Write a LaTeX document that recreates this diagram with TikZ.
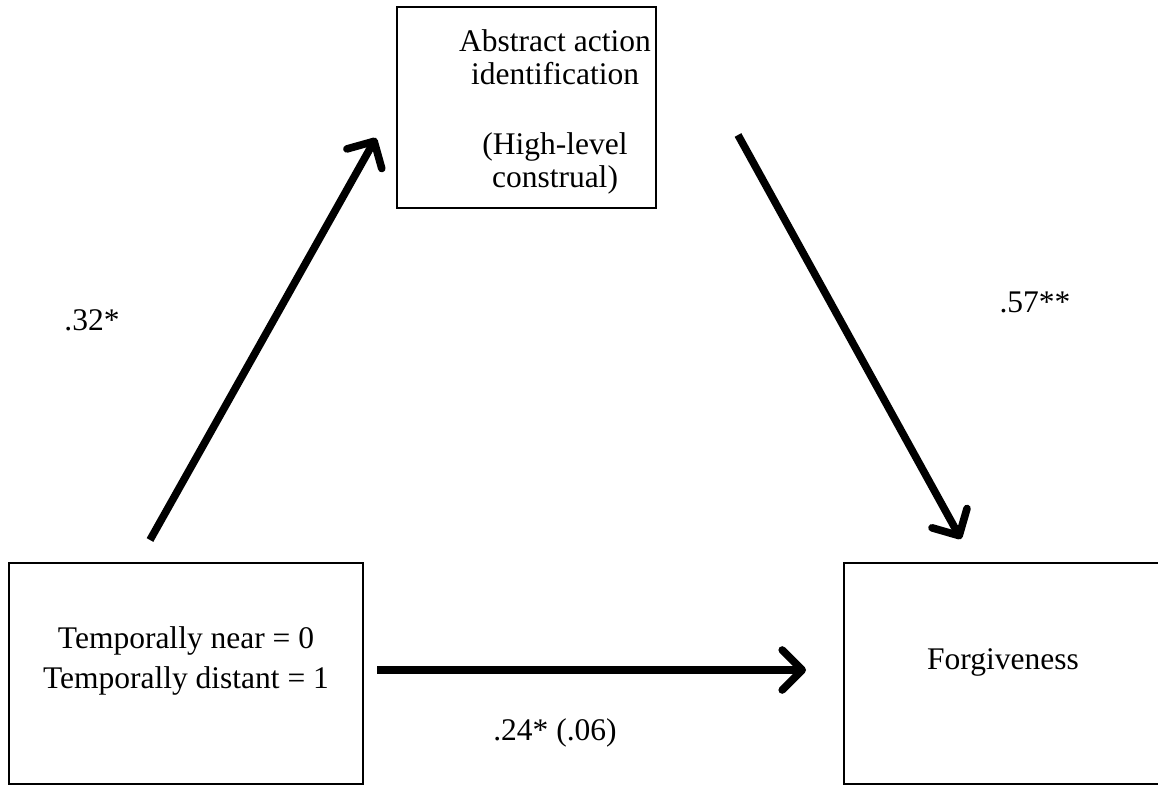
\documentclass[tikz,border=0pt]{standalone}
\usepackage{fontspec}
\setmainfont{Liberation Serif}
\usetikzlibrary{arrows.meta}

\begin{document}
\begin{tikzpicture}[x=0.5pt, y=-0.5pt,
    every node/.style={font=\fontsize{15.75}{16.5}\selectfont},
    box/.style={draw, line width=1pt, inner sep=0pt},
    link/.style={line width=3.8pt, -{Straight Barb[round, length=10pt, width=20pt]}}]
  \useasboundingbox (0,0) rectangle (1158,785);

  % boxes
  \node[box, minimum width=129.5pt, minimum height=100.5pt] (med) at (526.5,107.5) {};
  \node[box, minimum width=177pt, minimum height=110.5pt] (cause) at (186,673.5) {};
  \node[box, minimum width=159pt, minimum height=110.5pt] (outcome) at (1003,673.5) {};

  \node[align=center] (medtext) at (555,112) {Abstract action\\identification\\[18.5pt](High-level\\construal)};
  \node[align=center] (causetext) at (186,661) {Temporally near = 0\\[3.5pt]Temporally distant = 1};
  \node (outcometext) at (1003,662) {Forgiveness};

  % arrow ends
  \coordinate (a1) at (150,540);
  \coordinate (a2) at (376,138);
  \coordinate (b1) at (738,135);
  \coordinate (b2) at (961,539);
  \coordinate (c1) at (377,670);
  \coordinate (c2) at (806,670);

  \draw[link] (a1) -- (a2);
  \draw[link] (b1) -- (b2);
  \draw[link] (c1) -- (c2);

  \node (pa) at (92,320) {.32*};
  \node (pb) at (1035,302) {.57**};
  \node (pc) at (555,733) {.24* (.06)};
\end{tikzpicture}
\end{document}
